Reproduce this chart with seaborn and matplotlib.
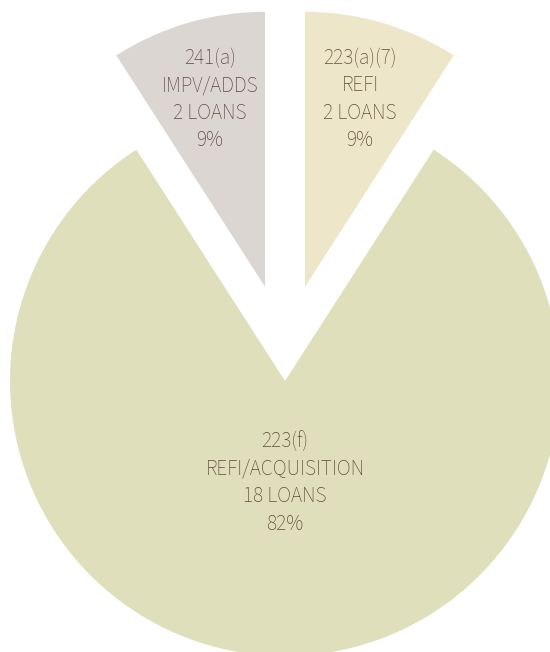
import matplotlib
matplotlib.use("Agg")
import matplotlib.pyplot as plt
import seaborn as sns

sns.set_theme(style="white")
plt.rcParams['font.family'] = ['Source Sans 3', 'Open Sans', 'DejaVu Sans']

# Data (clockwise from top)
programs = ["223(a)(7)", "223(f)", "241(a)"]
purposes = ["REFI", "REFI/ACQUISITION", "IMPV/ADDS"]
loans = [2, 18, 2]
percents = [9, 82, 9]
colors = ["#ede6c8", "#dfe0bb", "#dcd6d2"]
text_color = "#634a40"

labels = [f"{p}\n{t}\n{n} LOANS\n{pc}%" for p, t, n, pc in zip(programs, purposes, loans, percents)]

fig = plt.figure(figsize=(5.5, 6.52), dpi=100)
ax = fig.add_axes([0, 0, 1, 1])

tp = dict(color=text_color, fontsize=15.3, linespacing=1.36, fontweight=500)

# big slice (drawn in place)
wA, tA = ax.pie(loans, labels=labels, colors=colors, startangle=90, counterclock=False,
                radius=1.0, labeldistance=0.37, center=(0, 0),
                wedgeprops=dict(linewidth=0), textprops=tp)
for i, (w, t) in enumerate(zip(wA, tA)):
    if loans[i] != max(loans):
        w.set_visible(False)
        t.set_visible(False)
    t.set_ha("center")
    t.set_va("center")
    t.set_multialignment("center")

# small slices (pulled out above)
explode = [0.258 if n != max(loans) else 0 for n in loans]
wB, tB = ax.pie(loans, labels=labels, colors=colors, startangle=90, counterclock=False,
                radius=1.0, labeldistance=0.71, explode=explode, center=(0, 0.095),
                wedgeprops=dict(linewidth=0), textprops=tp)
for i, (w, t) in enumerate(zip(wB, tB)):
    if loans[i] == max(loans):
        w.set_visible(False)
        t.set_visible(False)
    t.set_ha("center")
    t.set_va("center")
    t.set_multialignment("center")

ax.set_aspect("auto")
ax.set_xlim(-285 / 275, 265 / 275)
ax.set_ylim(-271 / 275, 381 / 275)
ax.axis("off")

fig.savefig("out.png", dpi=100, facecolor="white")
